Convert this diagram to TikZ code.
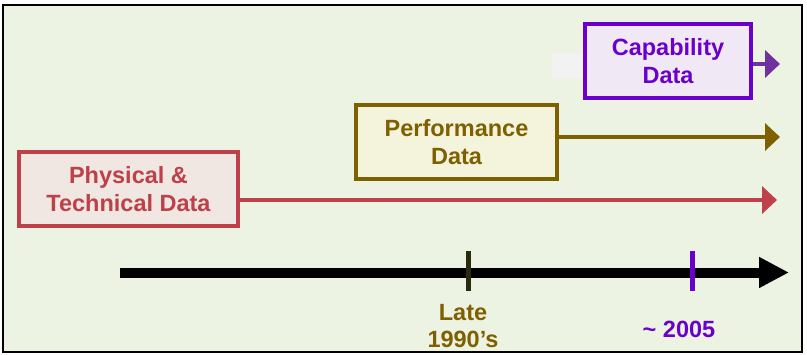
\documentclass[tikz,border=0pt]{standalone}
\usepackage{fontspec}
\setmainfont{Liberation Sans}
\usetikzlibrary{arrows.meta}
\definecolor{bgcol}{HTML}{EDF3E2}
\definecolor{physcol}{HTML}{BE4048}
\definecolor{physfill}{HTML}{F0E7E2}
\definecolor{perfcol}{HTML}{7F6000}
\definecolor{perffill}{HTML}{F4F4DC}
\definecolor{capcol}{HTML}{6A00CC}
\definecolor{capfill}{HTML}{F1E8F6}
\definecolor{caparrow}{HTML}{7030A0}
\definecolor{tickdark}{HTML}{2A2A0E}
\begin{document}
\begin{tikzpicture}[
    x=1pt, y=-1pt,
    every node/.style={align=center, font=\fontsize{23.5}{27.8}\selectfont\bfseries},
    box/.style={draw, line width=4pt, minimum height=74pt, inner sep=0pt},
    flow/.style={line width=4pt, -{Triangle[length=15pt,width=27pt]}},
    tick/.style={line width=5pt}
  ]
    \useasboundingbox (0,0) rectangle (807,354);
    \draw[line width=2pt, fill=bgcol] (3,5) rectangle (802,352);
    \fill[black!5] (552,53) rectangle (583,78);
    \node[box, color=capcol, fill=capfill, minimum width=166pt] (cap) at (668,61)
      {Capability\\Data};
    \node[box, color=perfcol, fill=perffill, minimum width=201pt] (perf) at (456.5,142)
      {Performance\\Data};
    \node[box, color=physcol, fill=physfill, minimum width=219pt] (phys) at (128.5,189)
      {Physical \&\\Technical Data};
    \coordinate (capend) at (780,64);
    \coordinate (perfend) at (780,137);
    \coordinate (physend) at (777,200);
    \draw[flow, caparrow] (cap.east |- capend) -- (capend);
    \draw[flow, perfcol] (perf.east |- perfend) -- (perfend);
    \draw[flow, physcol] (phys.east |- physend) -- (physend);
    \coordinate (tstart) at (120,272.5);
    \coordinate (tend) at (789,272.5);
    \draw[line width=10pt, -{Triangle[length=30pt,width=29pt]}] (tstart) -- (tend);
    \coordinate (late) at (468,251);
    \coordinate (recent) at (692,251);
    \draw[tick, tickdark] (late) -- ++(0,40);
    \draw[tick, capcol] (recent) -- ++(0,40);
    \node[perfcol] (latelbl) at (463,326) {Late\\1990's};
    \node[capcol, anchor=base] (recentlbl) at (679,337) {\textasciitilde{} 2005};
  \end{tikzpicture}
\end{document}
